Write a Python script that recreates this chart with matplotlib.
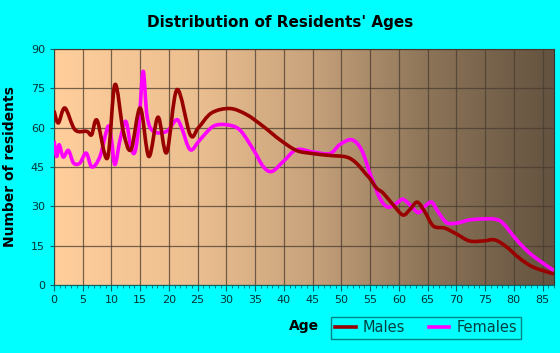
import numpy as np
from matplotlib import pyplot as plt
from matplotlib.colors import LinearSegmentedColormap
from matplotlib.path import Path
from matplotlib.patches import PathPatch
from matplotlib.lines import Line2D

# values
male_ages = [0, 0.75, 1.9, 3.65, 5.7, 6.55, 7.5, 9.3, 10.6, 12.05, 13.4, 15, 16.5,
             18.1, 19.6, 21.4, 23.7, 25.1, 27.4, 30.6, 33.5, 36.4, 39.3, 42.2, 45.1,
             48, 50.9, 52.6, 54.4, 55, 56.1, 57.3, 59, 60.7, 61.9, 63.2, 64.5, 66,
             68, 70, 72.3, 74.7, 76.7, 78.7, 81, 83.4, 87]
male_vals = [66.5, 61.8, 67.5, 59.2, 58.6, 57.3, 62.8, 48.4, 76.4, 58.6, 51.6, 67.5, 49,
             64, 50.5, 74.5, 57.3, 59.9, 65.6, 67.3, 65, 60.5, 55.4, 51.3, 50.1,
             49.4, 48.8, 46.5, 42, 40.5, 37, 35, 30.6, 26.7, 28.7, 31.6, 28, 22.5,
             21.7, 19.5, 16.8, 16.8, 17.2, 14.6, 10.2, 6.8, 4.2]

female_ages = [0, 0.47, 0.9, 1.6, 2.5, 3.4, 4.5, 5.6, 6.6, 8, 9.4, 10, 10.6, 11.5,
               12.5, 13.4, 14.1, 14.8, 15.5, 16.2, 17.3, 19.6, 21.3, 22.2, 23.7, 25.4,
               27.7, 30, 32.3, 34.7, 36.4, 37.9, 39.9, 42.2, 45.1, 48, 49.7, 51.8,
               53.5, 55, 56.7, 58.1, 59.6, 60.7, 61.9, 63.4, 64.5, 65.7, 66.8, 68.3,
               70, 72.3, 74.7, 76.7, 78.1, 80.5, 82.8, 85.1, 87]
female_vals = [55, 49, 53.5, 48.8, 51.3, 46.5, 46.5, 50.3, 45, 49, 60.5, 55.4, 45.9, 55.4,
               62.4, 52.2, 50.9, 61.8, 81.5, 64.3, 58.6, 58.6, 63, 60, 51.6, 55.4,
               60.5, 61.1, 59.2, 51.6, 45.2, 43.3, 47.1, 51.6, 50.7, 50.1, 53.5, 55.4,
               51.6, 42.5, 33.1, 29.7, 31.2, 32.7, 30.6, 27.6, 29.9, 31.6, 28, 23.8,
               23.6, 24.8, 25.2, 25.1, 23.6, 17.2, 12.1, 8.3, 5.5]

bg_stops = [(0.0, '#ffce9b'), (0.27, '#edc091'), (0.51, '#c8a37c'),
            (0.75, '#8c7458'), (1.0, '#645340')]


def smooth_path(xs, ys):
    # catmull-rom style bezier path through the read points
    p = np.column_stack([xs, ys]).astype(float)
    verts = [p[0]]
    codes = [Path.MOVETO]
    n = len(p)
    for i in range(n - 1):
        p0 = p[max(i - 1, 0)]
        p1 = p[i]
        p2 = p[i + 1]
        p3 = p[min(i + 2, n - 1)]
        c1 = p1 + (p2 - p0) / 6.0
        c2 = p2 - (p3 - p1) / 6.0
        verts += [c1, c2, p2]
        codes += [Path.CURVE4] * 3
    return Path(verts, codes)


fig = plt.figure(figsize=(5.6, 3.53), dpi=100, facecolor='#00ffff')
ax = fig.add_axes([54 / 560, 1 - 285 / 353, 500 / 560, 236 / 353])

cmap = LinearSegmentedColormap.from_list('bg', bg_stops)
ax.imshow(np.linspace(0, 1, 256).reshape(1, -1), cmap=cmap, aspect='auto',
          extent=[0, 87, 0, 90], zorder=0)

ax.set_xlim(0, 87)
ax.set_ylim(0, 90)
ax.set_xticks(range(0, 87, 5))
ax.set_xticks(range(0, 88), minor=True)
ax.set_yticks(range(0, 91, 15))
ax.grid(True, color='#4a3c30', linewidth=0.9, alpha=0.75, zorder=1)
ax.set_axisbelow(False)

ax.add_patch(PathPatch(smooth_path(female_ages, female_vals), fill=False,
                       edgecolor='#ff00ff', lw=2.6, zorder=3, joinstyle='round'))
ax.add_patch(PathPatch(smooth_path(male_ages, male_vals), fill=False,
                       edgecolor='#990000', lw=2.6, zorder=4, joinstyle='round'))

for s in ['top', 'right']:
    ax.spines[s].set_color('#333333')
ax.spines['left'].set_color('#006666')
ax.spines['bottom'].set_color('#006666')
ax.tick_params(axis='both', labelsize=8, colors='#003333', length=3)
ax.tick_params(axis='x', which='minor', length=2, color='#006666')
ax.tick_params(axis='x', which='major', length=4, color='#006666')
ax.tick_params(axis='y', color='#006666')

fig.text(0.5, 1 - 22 / 353, "Distribution of Residents' Ages", ha='center', va='center',
         fontsize=11, fontweight='bold')
ax.set_xlabel('Age', fontsize=10, fontweight='bold', labelpad=10)
ax.set_ylabel('Number of residents', fontsize=10, fontweight='bold', labelpad=10)

handles = [Line2D([], [], color='#990000', lw=2.6), Line2D([], [], color='#ff00ff', lw=2.6)]
leg = fig.legend(handles, ['Males', 'Females'], loc='center',
                 bbox_to_anchor=(426 / 560, 1 - 328 / 353),
                 ncol=2, frameon=True, fancybox=False, fontsize=10.5, handlelength=1.4,
                 columnspacing=1.6, borderpad=0.25, handletextpad=0.5)
leg.get_frame().set_facecolor('#00ffff')
leg.get_frame().set_edgecolor('#006666')
for t in leg.get_texts():
    t.set_color('#004040')

fig.savefig('out.png', dpi=100, facecolor=fig.get_facecolor())
